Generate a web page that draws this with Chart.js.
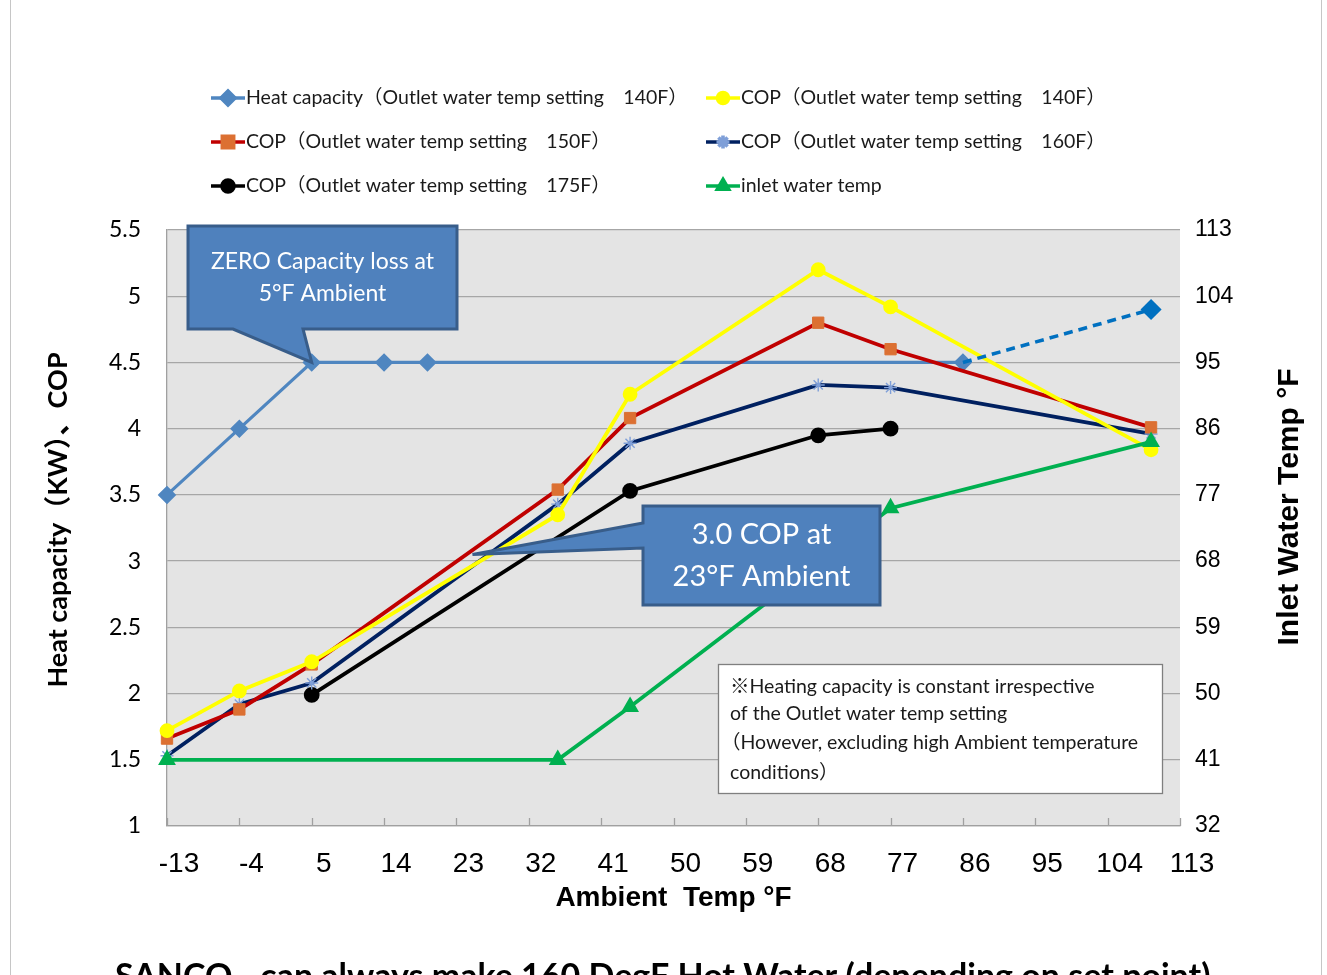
<!DOCTYPE html>
<html>
<head>
<meta charset="utf-8">
<script src="https://cdn.jsdelivr.net/npm/chart.js@4/dist/chart.umd.min.js"></script>
<style>
  html, body { margin: 0; padding: 0; background: #ffffff; width: 1327px; height: 975px; overflow: hidden; }
  #wrap { position: absolute; left: 0; top: 0; width: 1327px; height: 975px; }
  .frame { position: absolute; top: 0; width: 1px; height: 975px; background: #c6c6c6; }
</style>
</head>
<body>
<div class="frame" style="left:10px"></div>
<div class="frame" style="left:1321px"></div>
<div id="wrap"><canvas id="chart" width="1327" height="975"></canvas></div>
<script>
// ---- measured values (ambient temperature in °F) ----
const heatCapX     = [-13, -4, 5, 14, 19.4, 86];
const heatCapKW    = [3.5, 4.0, 4.5, 4.5, 4.5, 4.5];
const heatCapExtX  = [86, 109.4];
const heatCapExtKW = [4.5, 4.9];

const copX   = [-13, -4, 5, 35.6, 44.6, 68, 77, 109.4];
const cop140 = [1.72, 2.02, 2.24, 3.35, 4.26, 5.20, 4.92, 3.84];
const cop150 = [1.66, 1.88, 2.22, 3.54, 4.08, 4.80, 4.60, 4.01];
const cop160 = [1.53, 1.92, 2.08, 3.43, 3.89, 4.33, 4.31, 3.96];

const cop175X = [5, 44.6, 68, 77];
const cop175  = [1.99, 3.53, 3.95, 4.00];

const inletX = [-13, 35.6, 44.6, 77, 109.4];
const inletF = [41, 41, 48.2, 75.2, 84.2];

// ---- axis ticks ----
const xTickValues  = [-13, -4, 5, 14, 23, 32, 41, 50, 59, 68, 77, 86, 95, 104, 113];
const xTickLabels  = ['-13', '-4', '5', '14', '23', '32', '41', '50', '59', '68', '77', '86', '95', '104', '113'];
const yTickValues  = [1, 1.5, 2, 2.5, 3, 3.5, 4, 4.5, 5, 5.5];
const yTickLabels  = ['1', '1.5', '2', '2.5', '3', '3.5', '4', '4.5', '5', '5.5'];
const y2TickValues = [32, 41, 50, 59, 68, 77, 86, 95, 104, 113];
const y2TickLabels = ['32', '41', '50', '59', '68', '77', '86', '95', '104', '113'];

// ---- texts ----
const seriesNames = {
  heat:  'Heat capacity（Outlet water temp setting　140F）',
  c140:  'COP（Outlet water temp setting　140F）',
  c150:  'COP（Outlet water temp setting　150F）',
  c160:  'COP（Outlet water temp setting　160F）',
  c175:  'COP（Outlet water temp setting　175F）',
  inlet: 'inlet water temp'
};
const leftTitle  = 'Heat capacity（KW）、COP';
const rightTitle = 'Inlet Water Temp °F';
const xTitle     = 'Ambient  Temp °F';
const callout1   = ['ZERO Capacity loss at', '5°F Ambient'];
const callout1Tip = [5, 4.5];
const callout2   = ['3.0 COP at', '23°F Ambient'];
const callout2Tip = [25, 3.05];
const noteLines  = [
  '※Heating capacity is constant irrespective',
  'of the Outlet water temp setting',
  '（However, excluding high Ambient temperature',
  'conditions）'
];
const footerText = 'SANCO₂  can always make 160 DegF Hot Water (depending on set point)';

const pts = (xs, ys) => xs.map((x, i) => ({ x, y: ys[i] }));

const CAL = "Lato, 'Noto Sans CJK JP', sans-serif";
const ARIAL = "'Liberation Sans', Arial, sans-serif";

const datasets = [
  { key: 'heat', label: seriesNames.heat, data: pts(heatCapX, heatCapKW), yAxisID: 'y',
    borderColor: '#4F86C0', backgroundColor: '#4F86C0', borderWidth: 3.2,
    pointStyle: 'rectRot', pointRadius: 7, pointBackgroundColor: '#4F86C0', pointBorderColor: '#4F86C0', order: 6 },
  { key: 'heatExt', label: '', data: pts(heatCapExtX, heatCapExtKW), yAxisID: 'y',
    borderColor: '#0070C0', backgroundColor: '#0070C0', borderWidth: 3.6, borderDash: [9, 6],
    pointStyle: 'rectRot', pointRadius: [0, 8], pointBackgroundColor: '#0070C0', pointBorderColor: '#0070C0', order: 0 },
  { key: 'c140', label: seriesNames.c140, data: pts(copX, cop140), yAxisID: 'y',
    borderColor: '#FFFF00', backgroundColor: '#FFFF00', borderWidth: 3.8,
    pointStyle: 'circle', pointRadius: 5.5, pointBackgroundColor: '#FFFF00', pointBorderColor: '#FFFF00', order: 2 },
  { key: 'c150', label: seriesNames.c150, data: pts(copX, cop150), yAxisID: 'y',
    borderColor: '#C00000', backgroundColor: '#C00000', borderWidth: 3.8,
    pointStyle: 'rect', pointRadius: 8, pointBackgroundColor: '#DC7032', pointBorderColor: '#DC7032', pointBorderWidth: 1, order: 3 },
  { key: 'c160', label: seriesNames.c160, data: pts(copX, cop160), yAxisID: 'y',
    borderColor: '#002060', backgroundColor: '#002060', borderWidth: 3.8,
    pointStyle: 'star', pointRadius: 6.5, pointBackgroundColor: '#7F9FD8', pointBorderColor: '#7F9FD8', pointBorderWidth: 1.4, order: 4 },
  { key: 'c175', label: seriesNames.c175, data: pts(cop175X, cop175), yAxisID: 'y',
    borderColor: '#000000', backgroundColor: '#000000', borderWidth: 3.8,
    pointStyle: 'circle', pointRadius: 6, pointBackgroundColor: '#000000', pointBorderColor: '#000000', order: 5 },
  { key: 'inlet', label: seriesNames.inlet, data: pts(inletX, inletF), yAxisID: 'y2',
    borderColor: '#00B050', backgroundColor: '#00B050', borderWidth: 3.8,
    pointStyle: 'triangle', pointRadius: 6.5, pointBackgroundColor: '#00B050', pointBorderColor: '#00B050', order: 1 }
].map(d => Object.assign(d, { clip: false }));

// legend layout: [series key, column, row]
const legendItems = [['heat', 0, 0], ['c140', 1, 0], ['c150', 0, 1], ['c160', 1, 1], ['c175', 0, 2], ['inlet', 1, 2]];
const legendColX = [211, 706];
const legendRowY = [98, 142, 186];

function drawCallout(ctx, box, tip, base, lines, fontPx, lineGap) {
  ctx.save();
  ctx.beginPath();
  const [l, t, r, b] = box;
  if (base.side === 'bottom') {
    ctx.moveTo(l, t); ctx.lineTo(r, t); ctx.lineTo(r, b);
    ctx.lineTo(base.b, b); ctx.lineTo(tip.x, tip.y); ctx.lineTo(base.a, b);
    ctx.lineTo(l, b); ctx.closePath();
  } else {
    ctx.moveTo(l, t); ctx.lineTo(r, t); ctx.lineTo(r, b); ctx.lineTo(l, b);
    ctx.lineTo(l, base.b); ctx.lineTo(tip.x, tip.y); ctx.lineTo(l, base.a);
    ctx.closePath();
  }
  ctx.fillStyle = '#4F81BD';
  ctx.fill();
  ctx.lineWidth = 3;
  ctx.strokeStyle = '#385D8A';
  ctx.lineJoin = 'miter';
  ctx.stroke();
  ctx.fillStyle = '#ffffff';
  ctx.font = fontPx + 'px ' + CAL;
  ctx.textAlign = 'center';
  ctx.textBaseline = 'middle';
  const cx = (l + r) / 2;
  const cy = (t + b) / 2;
  lines.forEach((s, i) => ctx.fillText(s, cx, cy + (i - (lines.length - 1) / 2) * lineGap));
  ctx.restore();
}

const decorPlugin = {
  id: 'decor',
  beforeDraw(chart) {
    const { ctx, chartArea: a } = chart;
    ctx.save();
    ctx.fillStyle = '#E4E4E4';
    ctx.fillRect(a.left, a.top, a.right - a.left, a.bottom - a.top);
    ctx.restore();
  },
  beforeDatasetsDraw(chart) {
    // short tick marks pointing up into the plot from the x axis
    const { ctx, chartArea: a } = chart;
    const xs = chart.scales.x;
    ctx.save();
    ctx.strokeStyle = '#A0A0A0';
    ctx.lineWidth = 1.3;
    xs.ticks.forEach(t => {
      const px = Math.round(xs.getPixelForValue(t.value)) + 0.5;
      ctx.beginPath(); ctx.moveTo(px, a.bottom); ctx.lineTo(px, a.bottom - 8); ctx.stroke();
    });
    ctx.restore();
  },
  afterDatasetsDraw(chart) {
    const { ctx } = chart;
    const sx = chart.scales.x, sy = chart.scales.y;
    const tip1 = { x: sx.getPixelForValue(callout1Tip[0]), y: sy.getPixelForValue(callout1Tip[1]) };
    drawCallout(ctx, [188, 226, 457, 329], tip1, { side: 'bottom', a: 233, b: 303 }, callout1, 23, 32);
    const tip2 = { x: sx.getPixelForValue(callout2Tip[0]), y: sy.getPixelForValue(callout2Tip[1]) };
    drawCallout(ctx, [643, 506, 880, 605], tip2, { side: 'left', a: 523, b: 548 }, callout2, 29, 42);

    // explanatory note
    ctx.save();
    ctx.fillStyle = '#ffffff';
    ctx.fillRect(718, 664, 444, 129);
    ctx.strokeStyle = '#7F7F7F';
    ctx.lineWidth = 1.3;
    ctx.strokeRect(718.5, 664.5, 444, 129);
    ctx.fillStyle = '#1a1a1a';
    ctx.font = '19.5px ' + CAL;
    ctx.textAlign = 'left';
    ctx.textBaseline = 'middle';
    const noteY = [687, 714, 743, 773];
    const noteX = [730, 730, 721, 730];
    noteLines.forEach((s, i) => ctx.fillText(s, noteX[i], noteY[i]));
    ctx.restore();
  },
  afterDraw(chart) {
    const { ctx, chartArea: a } = chart;
    ctx.save();
    // legend
    ctx.font = '19.5px ' + CAL;
    ctx.textBaseline = 'middle';
    ctx.textAlign = 'left';
    legendItems.forEach(([key, col, row]) => {
      const ds = chart.data.datasets.find(d => d.key === key);
      const x0 = legendColX[col], y0 = legendRowY[row];
      ctx.strokeStyle = ds.borderColor;
      ctx.lineWidth = 3.6;
      ctx.setLineDash([]);
      ctx.beginPath(); ctx.moveTo(x0, y0); ctx.lineTo(x0 + 34, y0); ctx.stroke();
      ctx.fillStyle = ds.pointBackgroundColor;
      ctx.strokeStyle = ds.pointBorderColor;
      const r = Array.isArray(ds.pointRadius) ? ds.pointRadius[1] : ds.pointRadius;
      Chart.helpers.drawPoint(ctx, { pointStyle: ds.pointStyle, rotation: 0, radius: r, borderWidth: ds.pointBorderWidth || 1 }, x0 + 17, y0);
      ctx.fillStyle = '#1a1a1a';
      ctx.fillText(ds.label, x0 + 35, y0);
    });

    // axis titles, both reading bottom to top
    ctx.fillStyle = '#000000';
    ctx.textAlign = 'center';
    ctx.textBaseline = 'middle';
    ctx.save();
    ctx.translate(58, 520);
    ctx.rotate(-Math.PI / 2);
    ctx.font = 'bold 27px ' + CAL;
    ctx.fillText(leftTitle, 0, 0);
    ctx.restore();

    ctx.save();
    ctx.translate(1290, 507);
    ctx.rotate(-Math.PI / 2);
    ctx.font = 'bold 30px ' + ARIAL;
    ctx.fillText(rightTitle, 0, 0);
    ctx.restore();

    // footer line, running off the bottom edge
    ctx.font = 'bold 34px ' + CAL;
    ctx.textAlign = 'left';
    ctx.textBaseline = 'alphabetic';
    ctx.fillText(footerText, 115, 988);
    ctx.restore();
  }
};

new Chart(document.getElementById('chart'), {
  type: 'line',
  data: { datasets },
  plugins: [decorPlugin],
  options: {
    responsive: false,
    animation: false,
    layout: { padding: { left: 0, right: 0, top: 230, bottom: 0 } },
    plugins: { legend: { display: false }, tooltip: { enabled: false } },
    elements: { line: { tension: 0 } },
    scales: {
      x: {
        type: 'linear', position: 'bottom', min: -13, max: 113,
        afterBuildTicks: s => { s.ticks = xTickValues.map(v => ({ value: v })); },
        afterFit: s => { s.height = 149; },
        grid: { display: true, drawOnChartArea: false, drawTicks: false },
        border: { display: true, color: '#A0A0A0', width: 1.3 },
        ticks: { font: { family: ARIAL, size: 28 }, color: '#000000', padding: 21, labelOffset: 12, maxRotation: 0, autoSkip: false,
                 callback: (v, i) => xTickLabels[i] },
        title: { display: true, text: xTitle, font: { family: ARIAL, size: 28, weight: 'bold' }, color: '#000000', padding: { top: 0, bottom: 60 } }
      },
      y: {
        type: 'linear', position: 'left', min: 1, max: 5.5,
        afterBuildTicks: s => { s.ticks = yTickValues.map(v => ({ value: v })); },
        afterFit: s => { s.width = 167; },
        grid: { color: '#A6A6A6', lineWidth: 1.3, drawTicks: false },
        border: { display: true, color: '#A0A0A0', width: 1.3 },
        ticks: { font: { family: CAL, size: 23 }, color: '#000000', padding: 26, callback: (v, i) => yTickLabels[i] },
        title: { display: false }
      },
      y2: {
        type: 'linear', position: 'right', min: 32, max: 113,
        afterBuildTicks: s => { s.ticks = y2TickValues.map(v => ({ value: v })); },
        afterFit: s => { s.width = 147; },
        grid: { display: false, drawTicks: false },
        border: { display: false },
        ticks: { font: { family: ARIAL, size: 23 }, color: '#000000', padding: 15, callback: (v, i) => y2TickLabels[i] }
      }
    }
  }
});
</script>
</body>
</html>
